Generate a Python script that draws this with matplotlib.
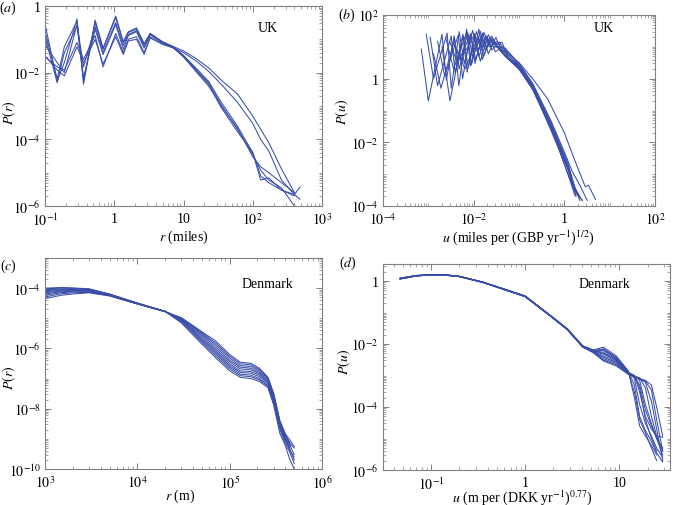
import numpy as np
import matplotlib
matplotlib.use("Agg")
import matplotlib.pyplot as plt
from matplotlib.ticker import FixedLocator, LogLocator, NullFormatter

# ---------------- (a) UK, P(r), r in miles ----------------
r_a = [0.1, 0.15, 0.19, 0.29, 0.36, 0.53, 0.69, 1.05, 1.35, 1.6, 2.1, 2.7, 3.3,
       5.0, 7.2, 10, 15, 23, 35, 60, 100, 130, 170, 260, 400, 480]
P_a = [
    [2.9e-1, 5.5e-3, 2.0e-2, 4.1e-1, 4.5e-3, 3.8e-1, 5.5e-2, 5.0e-1, 8.5e-2, 1.7e-1, 2.2e-1, 7.5e-2, 1.5e-1,
     8.5e-2, 6.0e-2, 3.2e-2, 1.3e-2, 5.0e-3, 1.1e-3, 2.0e-4, 3.5e-5, 1.2e-5, 6.0e-6, 3.5e-6, 1.0e-6],
    [1.7e-1, 6.5e-3, 6.0e-2, 3.5e-1, 6.0e-3, 3.2e-1, 5.0e-2, 4.5e-1, 8.0e-2, 1.6e-1, 2.0e-1, 7.0e-2, 1.5e-1,
     8.0e-2, 5.5e-2, 3.0e-2, 1.2e-2, 4.5e-3, 9.0e-4, 1.7e-4, 4.0e-5, 8.0e-6, 5.0e-6, 3.0e-6, 2.2e-6, 3.7e-6],
    [7.0e-2, 2.0e-2, 1.0e-2, 2.8e-1, 1.5e-2, 2.4e-1, 4.0e-2, 3.2e-1, 6.5e-2, 1.4e-1, 1.8e-1, 6.0e-2, 1.4e-1,
     8.0e-2, 6.0e-2, 4.5e-2, 2.7e-2, 1.4e-2, 6.0e-3, 2.3e-3, 5.0e-4, 2.0e-4, 8.0e-5, 1.3e-5, 2.5e-6],
    [3.2e-2, 1.2e-2, 8.0e-3, 6.0e-2, 2.0e-2, 1.0e-1, 1.8e-2, 1.2e-1, 3.5e-2, 9.0e-2, 1.0e-1, 3.5e-2, 1.1e-1,
     7.0e-2, 5.5e-2, 4.0e-2, 2.3e-2, 1.1e-2, 4.5e-3, 1.3e-3, 3.0e-4, 1.0e-4, 4.5e-5, 6.0e-6, 2.2e-6, 1.6e-6],
    [1.2e-1, 5.0e-3, 4.0e-2, 2.5e-1, 7.0e-3, 2.0e-1, 3.5e-2, 2.8e-1, 5.0e-2, 1.3e-1, 1.7e-1, 5.5e-2, 1.4e-1,
     8.0e-2, 5.5e-2, 3.0e-2, 1.1e-2, 4.0e-3, 1.0e-3, 2.2e-4, 3.0e-5, 1.5e-5, 1.0e-5, 5.0e-6, 2.5e-6],
    [3.0e-2, 1.5e-2, 1.2e-2, 8.0e-2, 2.5e-2, 1.3e-1, 1.5e-2, 1.5e-1, 4.0e-2, 1.0e-1, 1.2e-1, 4.0e-2, 1.2e-1,
     7.5e-2, 5.5e-2, 3.3e-2, 1.4e-2, 5.5e-3, 1.3e-3, 2.5e-4, 4.0e-5, 6.0e-6, 7.0e-6, 3.0e-6, 2.0e-6],
]

# ---------------- (b) UK, P(u), u in miles per (GBP/yr)^1/2 ----------------
u_b = [
    [7.0e-4, 1.0e-3, 2.0e-3, 2.5e-3, 3.7e-3, 4.8e-3, 7.4e-3, 9.5e-3, 1.5e-2, 1.9e-2, 2.3e-2, 3.5e-2, 5.0e-2,
     1.0e-1, 2.0e-1, 3.0e-1, 5.0e-1, 8.0e-1, 1.2, 1.8, 2.5],
    [9.0e-4, 1.3e-3, 2.6e-3, 3.2e-3, 4.8e-3, 6.2e-3, 9.5e-3, 1.2e-2, 1.9e-2, 2.4e-2, 3.5e-2, 5.0e-2, 1.0e-1,
     2.0e-1, 3.0e-1, 5.0e-1, 8.0e-1, 1.2, 1.6, 2.2],
    [1.1e-3, 1.6e-3, 3.2e-3, 3.9e-3, 5.8e-3, 7.6e-3, 1.15e-2, 1.5e-2, 2.3e-2, 2.9e-2, 3.6e-2, 5.0e-2, 1.0e-1,
     2.0e-1, 3.0e-1, 5.0e-1, 8.0e-1, 1.2, 1.7],
    [1.3e-3, 1.9e-3, 3.8e-3, 4.7e-3, 7.0e-3, 9.0e-3, 1.4e-2, 1.75e-2, 2.7e-2, 3.5e-2, 5.0e-2, 1.0e-1, 2.0e-1,
     3.0e-1, 5.0e-1, 8.0e-1, 1.2, 1.5, 2.0],
    [1.6e-3, 2.3e-3, 4.6e-3, 5.7e-3, 8.5e-3, 1.1e-2, 1.7e-2, 2.2e-2, 3.3e-2, 4.2e-2, 6.0e-2, 1.0e-1, 2.0e-1,
     3.0e-1, 5.0e-1, 8.0e-1, 1.2, 1.6, 2.5],
    [2.0e-3, 3.0e-3, 5.8e-3, 7.2e-3, 1.05e-2, 1.4e-2, 2.1e-2, 2.7e-2, 4.2e-2, 5.4e-2, 1.0e-1, 2.0e-1, 3.0e-1,
     5.0e-1, 8.0e-1, 1.2, 1.8],
    [2.4e-3, 3.6e-3, 7.0e-3, 8.6e-3, 1.3e-2, 1.65e-2, 2.5e-2, 3.2e-2, 5.0e-2, 6.5e-2, 1.0e-1, 2.0e-1, 3.0e-1,
     5.0e-1, 8.0e-1, 1.2, 1.5, 2.2],
    [3.0e-3, 4.4e-3, 8.6e-3, 1.07e-2, 1.6e-2, 2.1e-2, 3.1e-2, 4.0e-2, 6.0e-2, 1.0e-1, 2.0e-1, 3.0e-1, 5.0e-1,
     8.0e-1, 1.2, 1.8],
    [3.6e-3, 5.2e-3, 1.0e-2, 1.3e-2, 1.9e-2, 2.5e-2, 3.7e-2, 5.0e-2, 1.0e-1, 2.0e-1, 4.3e-1, 1.0, 1.9, 2.9,
     3.4, 4.9],
    [4.4e-3, 6.4e-3, 1.25e-2, 1.55e-2, 2.3e-2, 3.0e-2, 4.5e-2, 1.0e-1, 2.0e-1, 3.0e-1, 5.0e-1, 1.0, 1.5, 2.2,
     3.2],
]
P_b = [
    [8.5, 0.2, 25, 0.9, 22, 2.0, 28, 5.0, 24, 9.0, 17, 9.0, 5.0, 2.0, 0.45, 0.13, 0.025, 5.0e-3, 1.0e-3,
     2.5e-4, 1.5e-4],
    [25, 1.0, 27, 0.5, 30, 3.0, 33, 7.0, 20, 11, 9.5, 5.5, 2.2, 0.5, 0.15, 0.03, 6.0e-3, 1.5e-3, 4.0e-4, 2.0e-4],
    [20, 0.6, 22, 1.5, 25, 2.2, 30, 9.0, 20, 12, 10, 5.5, 2.3, 0.55, 0.16, 0.03, 5.0e-3, 1.0e-3, 2.2e-4],
    [6.0, 0.5, 18, 0.6, 36, 2.8, 31, 8.0, 18, 9.0, 5.0, 2.0, 0.5, 0.14, 0.028, 6.0e-3, 1.4e-3, 5.0e-4, 2.5e-4],
    [15, 1.2, 24, 1.0, 26, 4.0, 28, 10, 15, 9.0, 4.5, 2.4, 0.55, 0.17, 0.035, 7.0e-3, 1.5e-3, 3.5e-4, 1.5e-4],
    [10, 0.2, 22, 1.6, 26, 3.5, 24, 12, 14, 6.0, 2.5, 0.6, 0.18, 0.035, 7.0e-3, 1.7e-3, 2.0e-4],
    [20, 2.0, 28, 2.5, 36, 5.0, 22, 10, 9.0, 5.5, 2.6, 0.6, 0.18, 0.04, 8.0e-3, 2.0e-3, 6.0e-4, 1.5e-4],
    [14, 3.0, 25, 3.0, 28, 6.0, 20, 8.0, 6.5, 3.0, 0.7, 0.2, 0.045, 9.0e-3, 2.2e-3, 3.0e-4],
    [12, 4.0, 22, 5.0, 22, 8.0, 14, 7.0, 3.2, 1.0, 0.23, 0.02, 1.8e-3, 4.0e-4, 4.5e-4, 1.6e-4],
    [8.0, 2.0, 20, 4.0, 18, 7.0, 10, 3.0, 0.7, 0.22, 0.05, 5.0e-3, 1.2e-3, 4.5e-4, 1.5e-4],
]

# ---------------- (c) Denmark, P(r), r in m ----------------
r_c = [1e3, 1.5e3, 2e3, 3e3, 5e3, 1e4, 2e4, 3e4, 5e4, 7e4, 1e5, 1.3e5, 1.7e5, 2.1e5, 2.6e5,
       3.0e5, 3.5e5, 4.0e5, 4.5e5, 5.0e5]
P_c = [
    [1.0e-4, 1.05e-4, 1.02e-4, 9.5e-5, 6.4e-5, 3.2e-5, 1.7e-5, 7.0e-6, 1.4e-6, 5.0e-7, 1.8e-7, 1.1e-7, 1.0e-7,
     8.0e-8, 5.0e-8, 1.3e-8, 1.5e-9, 6.0e-10, 2.0e-10, 1.0e-10],
    [9.4e-5, 1.0e-4, 9.8e-5, 9.3e-5, 6.3e-5, 3.2e-5, 1.7e-5, 7.5e-6, 1.6e-6, 5.8e-7, 2.1e-7, 1.25e-7, 1.15e-7,
     9.0e-8, 5.5e-8, 1.5e-8, 2.0e-9, 7.0e-10, 3.5e-10, 1.5e-10],
    [8.8e-5, 9.4e-5, 9.4e-5, 9.1e-5, 6.2e-5, 3.15e-5, 1.7e-5, 8.0e-6, 1.8e-6, 6.7e-7, 2.4e-7, 1.4e-7, 1.3e-7,
     1.0e-7, 6.0e-8, 1.7e-8, 2.3e-9, 8.5e-10, 5.0e-10],
    [8.2e-5, 8.9e-5, 9.0e-5, 8.9e-5, 6.1e-5, 3.1e-5, 1.7e-5, 8.4e-6, 2.0e-6, 7.6e-7, 2.7e-7, 1.6e-7, 1.5e-7,
     1.15e-7, 6.8e-8, 1.9e-8, 2.6e-9, 9.0e-10, 4.0e-10, 2.5e-10],
    [7.6e-5, 8.5e-5, 8.7e-5, 8.6e-5, 6.0e-5, 3.1e-5, 1.7e-5, 8.8e-6, 2.2e-6, 8.6e-7, 3.1e-7, 1.8e-7, 1.7e-7,
     1.3e-7, 7.5e-8, 2.1e-8, 2.9e-9, 1.0e-9, 6.0e-10],
    [7.0e-5, 8.1e-5, 8.3e-5, 8.3e-5, 5.9e-5, 3.05e-5, 1.68e-5, 9.2e-6, 2.5e-6, 9.8e-7, 3.6e-7, 2.1e-7, 1.95e-7,
     1.45e-7, 8.2e-8, 2.3e-8, 3.2e-9, 1.1e-9, 4.5e-10, 2.0e-10],
    [6.4e-5, 7.6e-5, 7.9e-5, 8.0e-5, 5.8e-5, 3.05e-5, 1.68e-5, 9.5e-6, 2.8e-6, 1.15e-6, 4.1e-7, 2.4e-7, 2.2e-7,
     1.6e-7, 9.0e-8, 2.6e-8, 3.4e-9, 1.2e-9, 7.0e-10, 5.0e-10],
    [5.8e-5, 7.1e-5, 7.5e-5, 7.7e-5, 5.7e-5, 3.0e-5, 1.67e-5, 9.8e-6, 3.1e-6, 1.35e-6, 4.8e-7, 2.7e-7, 2.5e-7,
     1.8e-7, 1.0e-7, 2.8e-8, 3.6e-9, 1.3e-9, 7.5e-10],
    [5.1e-5, 6.5e-5, 7.0e-5, 7.3e-5, 5.6e-5, 3.0e-5, 1.66e-5, 1.0e-5, 3.3e-6, 1.55e-6, 5.5e-7, 3.1e-7, 2.85e-7,
     2.0e-7, 1.05e-7, 3.0e-8, 3.8e-9, 1.4e-9, 6.0e-10, 3.0e-10],
    [4.5e-5, 5.8e-5, 6.4e-5, 7.0e-5, 5.5e-5, 3.0e-5, 1.65e-5, 1.05e-5, 3.6e-6, 1.8e-6, 6.3e-7, 3.5e-7, 3.2e-7,
     2.2e-7, 1.1e-7, 3.2e-8, 4.0e-9, 1.5e-9, 9.0e-10, 5.5e-10],
]

# ---------------- (d) Denmark, P(u), u in m per (DKK/yr)^0.77 ----------------
u_d = [0.047, 0.07, 0.1, 0.15, 0.2, 0.36, 0.6, 1.0, 1.85, 2.8, 4.1, 5.3, 6.8, 9.3, 12.5,
       14.5, 16.5, 19, 22, 25, 29]
P_d = [
    [1.25, 1.5, 1.6, 1.55, 1.42, 0.92, 0.56, 0.34, 0.082, 0.031, 8.8e-3, 6.5e-3, 7.9e-3, 4.2e-3, 1.4e-3,
     2.0e-4, 2.5e-5, 1.2e-5, 6.0e-6, 3.0e-6],
    [1.2, 1.48, 1.58, 1.53, 1.4, 0.91, 0.55, 0.33, 0.080, 0.030, 8.6e-3, 6.2e-3, 7.0e-3, 3.8e-3, 1.35e-3,
     5.0e-4, 5.0e-5, 1.8e-5, 8.0e-6, 3.5e-6, 1.8e-6],
    [1.22, 1.5, 1.6, 1.55, 1.41, 0.92, 0.55, 0.33, 0.081, 0.030, 8.5e-3, 6.0e-3, 6.2e-3, 3.5e-3, 1.3e-3,
     8.0e-4, 1.2e-4, 3.0e-5, 1.2e-5, 5.0e-6, 2.5e-6],
    [1.18, 1.46, 1.57, 1.52, 1.39, 0.9, 0.54, 0.33, 0.080, 0.030, 8.4e-3, 5.9e-3, 5.5e-3, 3.2e-3, 1.25e-3,
     1.0e-3, 3.0e-4, 5.0e-5, 2.0e-5, 1.2e-5, 1.1e-5],
    [1.2, 1.47, 1.58, 1.53, 1.4, 0.91, 0.55, 0.33, 0.080, 0.030, 8.3e-3, 5.8e-3, 4.8e-3, 3.0e-3, 1.2e-3,
     1.0e-3, 7.0e-4, 1.2e-4, 3.0e-5, 1.0e-5, 3.0e-6],
    [1.15, 1.45, 1.56, 1.52, 1.39, 0.9, 0.54, 0.33, 0.079, 0.029, 8.2e-3, 5.7e-3, 4.2e-3, 2.8e-3, 1.2e-3,
     9.5e-4, 8.5e-4, 4.0e-4, 5.0e-5, 1.2e-5, 4.0e-6],
    [1.18, 1.46, 1.57, 1.52, 1.39, 0.9, 0.54, 0.32, 0.079, 0.029, 8.2e-3, 5.6e-3, 3.8e-3, 2.6e-3, 1.15e-3,
     9.0e-4, 8.0e-4, 6.0e-4, 1.5e-4, 2.0e-5, 2.0e-6],
    [1.16, 1.45, 1.56, 1.51, 1.38, 0.89, 0.54, 0.32, 0.078, 0.029, 8.1e-3, 5.5e-3, 3.4e-3, 2.4e-3, 1.15e-3,
     9.0e-4, 7.5e-4, 6.5e-4, 3.5e-4, 4.0e-5, 4.0e-6],
    [1.2, 1.47, 1.57, 1.52, 1.39, 0.9, 0.54, 0.32, 0.078, 0.029, 8.0e-3, 5.4e-3, 3.1e-3, 2.2e-3, 1.1e-3,
     9.0e-4, 8.0e-4, 7.0e-4, 5.0e-4, 1.0e-4, 1.2e-5],
    [1.17, 1.45, 1.55, 1.5, 1.38, 0.89, 0.53, 0.32, 0.078, 0.029, 8.0e-3, 5.3e-3, 2.9e-3, 2.0e-3, 1.1e-3,
     9.5e-4, 4.0e-4, 4.0e-5, 1.0e-5, 4.0e-6],
    [1.19, 1.46, 1.56, 1.51, 1.38, 0.89, 0.53, 0.32, 0.078, 0.029, 8.1e-3, 5.6e-3, 6.8e-3, 3.6e-3, 1.3e-3,
     3.0e-4, 4.0e-5, 1.5e-5, 5.0e-6, 2.0e-6],
    [1.2, 1.48, 1.58, 1.53, 1.4, 0.91, 0.55, 0.33, 0.080, 0.030, 8.5e-3, 6.3e-3, 5.0e-3, 3.3e-3, 1.25e-3,
     9.8e-4, 5.0e-4, 8.0e-5, 2.5e-5, 1.0e-5, 5.0e-6],
]

LINE = "#3a4ea8"
FRAME = "#808080"
FS = 10

plt.rcParams["font.family"] = ["Liberation Serif", "DejaVu Serif"]
plt.rcParams["mathtext.fontset"] = "stix"
plt.rcParams["font.size"] = 9

W, H = 673, 506
fig = plt.figure(figsize=(W / 100, H / 100), dpi=100)


def px_axes(l, t, r, b):
    return fig.add_axes([l / W, 1 - b / H, (r - l) / W, (b - t) / H])


def ftext(x, y, s, **kw):
    fig.text(x / W, 1 - y / H, s, ha="center", va="center", fontsize=FS, **kw)


def style(ax, xlim, ylim, xticks, xlabels, yticks, ylabels):
    ax.set_xscale("log")
    ax.set_yscale("log")
    ax.set_xlim(*xlim)
    ax.set_ylim(*ylim)
    for sp in ax.spines.values():
        sp.set_color(FRAME)
        sp.set_linewidth(0.8)
    ax.xaxis.set_major_locator(FixedLocator(xticks))
    ax.yaxis.set_major_locator(FixedLocator(yticks))
    ax.set_xticklabels(xlabels)
    ax.set_yticklabels(ylabels)
    ax.xaxis.set_minor_locator(LogLocator(base=10, subs=np.arange(1, 10), numticks=200))
    ax.yaxis.set_minor_locator(LogLocator(base=10, subs=np.arange(1, 10), numticks=200))
    ax.xaxis.set_minor_formatter(NullFormatter())
    ax.yaxis.set_minor_formatter(NullFormatter())
    ax.tick_params(which="both", direction="in", top=True, right=True, color=FRAME,
                   labelsize=FS)
    ax.tick_params(axis="x", which="major", pad=4)
    ax.tick_params(axis="y", which="major", pad=3)
    ax.tick_params(which="major", length=4, width=0.7)
    ax.tick_params(which="minor", length=2, width=0.5)


def lab(e):
    return r"$10^{%d}$" % e


# (a)
ax = px_axes(45, 7, 322, 207)
for vals in P_a:
    ax.plot(r_a[:len(vals)], vals, color=LINE, lw=0.75)
style(ax, (0.1, 1e3), (1e-6, 1),
      [0.1, 1, 10, 100, 1000], [lab(-1), "1", "10", lab(2), lab(3)],
      [1e-6, 1e-4, 1e-2, 1], [lab(-6), lab(-4), lab(-2), "1"])
ftext(184, 237, r"$r$ (miles)")
ftext(9, 113, r"$P(r)$", rotation=90)

# (b)
ax = px_axes(383, 16, 655, 207)
for uu, vals in zip(u_b, P_b):
    ax.plot(uu, vals, color=LINE, lw=0.75)
style(ax, (1e-4, 1e2), (1e-4, 1e2),
      [1e-4, 1e-2, 1, 1e2], [lab(-4), lab(-2), "1", lab(2)],
      [1e-4, 1e-2, 1, 1e2], [lab(-4), lab(-2), "1", lab(2)])
ftext(518, 238, r"$u$ (miles per (GBP yr$^{-1}$)$^{1/2}$)")
ftext(342, 112, r"$P(u)$", rotation=90)

# (c)
ax = px_axes(45, 259, 322, 470)
for vals in P_c:
    ax.plot(r_c[:len(vals)], vals, color=LINE, lw=0.75)
style(ax, (1e3, 1e6), (1e-10, 1e-3),
      [1e3, 1e4, 1e5, 1e6], [lab(3), lab(4), lab(5), lab(6)],
      [1e-10, 1e-8, 1e-6, 1e-4], [lab(-10), lab(-8), lab(-6), lab(-4)])
ftext(180, 496, r"$r$ (m)")
ftext(9, 378, r"$P(r)$", rotation=90)

# (d)
ax = px_axes(383, 265, 670, 471)
for vals in P_d:
    ax.plot(u_d[:len(vals)], vals, color=LINE, lw=0.75)
style(ax, (10 ** -1.51, 10 ** 1.54), (1e-6, 10 ** 0.54),
      [0.1, 1, 10], [lab(-1), "1", "10"],
      [1e-6, 1e-4, 1e-2, 1], [lab(-6), lab(-4), lab(-2), "1"])
ftext(522, 498, r"$u$ (m per (DKK yr$^{-1}$)$^{0.77}$)")
ftext(344, 362, r"$P(u)$", rotation=90)

# panel letters and region names
for x, y, s in ((8, 8, "($a$)"), (347, 15, "($b$)"), (8, 266, "($c$)"), (348, 263, "($d$)")):
    ftext(x, y, s)
for x, y, s in ((268, 29, "UK"), (604, 29, "UK"), (267, 284, "Denmark"), (604, 284, "Denmark")):
    ftext(x, y, s)

fig.savefig("out.png", dpi=100)
